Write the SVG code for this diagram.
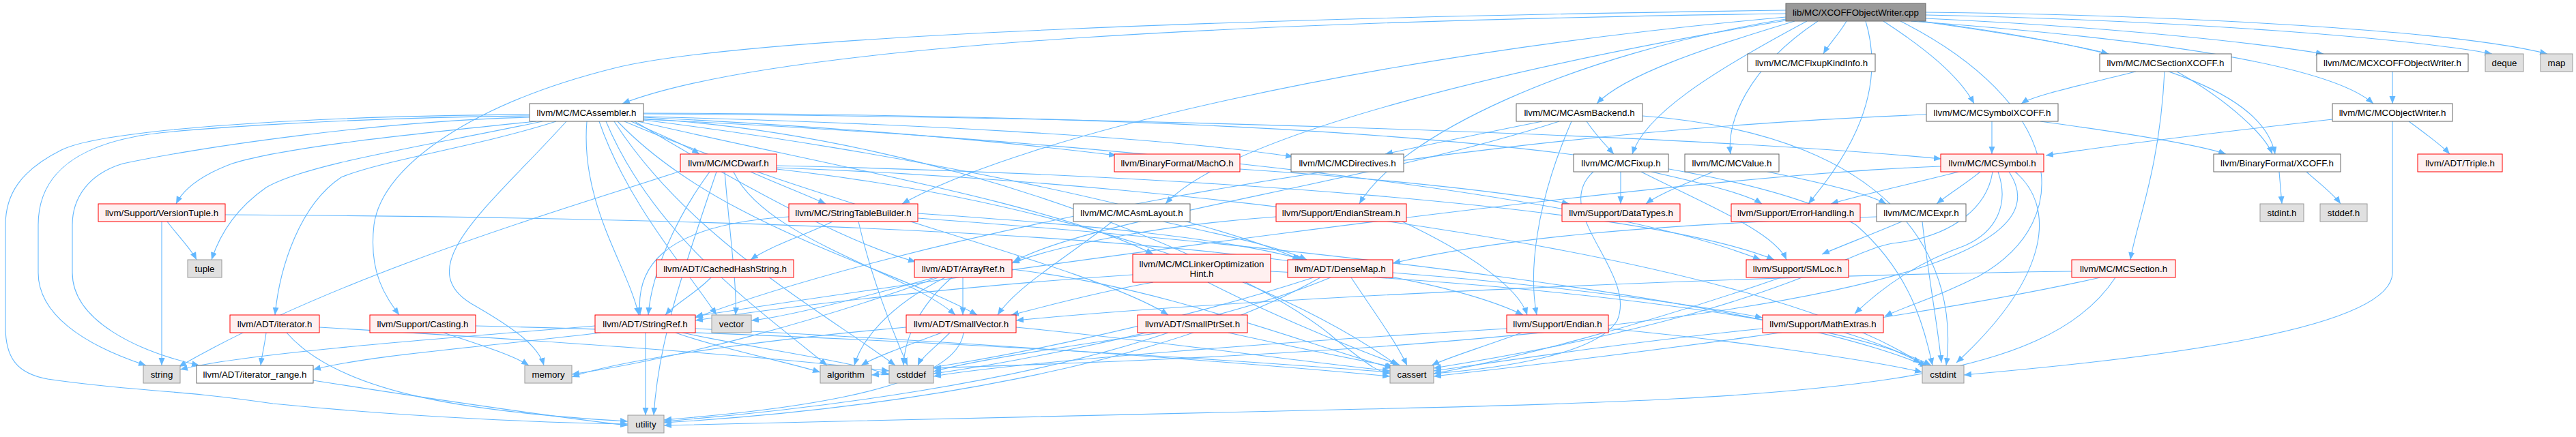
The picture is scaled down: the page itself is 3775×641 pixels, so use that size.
<svg xmlns="http://www.w3.org/2000/svg" width="3775" height="641" viewBox="0 0 3775 641">
<defs>
<marker id="ah" markerUnits="userSpaceOnUse" markerWidth="12" markerHeight="10" refX="11" refY="4.5" orient="auto"><path d="M0,0 L11,4.5 L0,9 z" fill="#63b8ff"/></marker>
<style>
.e path{fill:none;stroke:#63b8ff;stroke-width:1.1;marker-end:url(#ah)}
.w rect{fill:#ffffff;stroke:#666666}
.r rect{fill:#fff0f0;stroke:#ff0000}
.s rect{fill:#e0e0e0;stroke:#999999}
.root rect{fill:#999999;stroke:#666666}
text{font-family:"Liberation Sans",Arial,Helvetica,sans-serif;font-size:13.33px;text-anchor:middle;fill:#000000}
</style>
</defs>
<rect width="3775" height="641" fill="#ffffff"/>
<g id="edges" class="e">
<path d="M2617,20 C1900,30 1150,60 912,152"/>
<path d="M2617,15 C1900,25 1100,50 900,100 C700,150 560,240 548,330 C540,400 565,435 585,462"/>
<path d="M2706,31 C2695,50 2680,65 2672,79"/>
<path d="M2630,31 C2500,70 2380,110 2340,152"/>
<path d="M2648,31 C2500,110 2410,170 2392,226"/>
<path d="M2664,31 C2560,100 2530,180 2536,226"/>
<path d="M2734,31 C2770,150 2690,250 2650,299"/>
<path d="M2617,28 C2300,80 2050,200 1992,299"/>
<path d="M2617,30 C2200,100 1800,200 1708,299"/>
<path d="M2617,25 C2000,80 1500,200 1322,299"/>
<path d="M2760,31 C2820,70 2870,110 2893,152"/>
<path d="M2812,31 C2950,50 3050,68 3090,79"/>
<path d="M2822,27 C3100,40 3300,62 3405,79"/>
<path d="M2822,22 C3200,30 3520,55 3652,79"/>
<path d="M2822,18 C3200,22 3600,45 3733,79"/>
<path d="M2800,31 C3200,60 3420,100 3478,152"/>
<path d="M2815,31 C3200,80 3320,150 3334,226"/>
<path d="M2785,31 C3020,150 3050,320 2900,405 C2830,440 2790,450 2762,464"/>
<path d="M776,168 C450,170 150,190 90,220 C30,250 8,285 8,330 L8,480 C8,525 25,548 70,556 C200,575 250,570 400,592 C600,612 800,620 920,622"/>
<path d="M776,170 C500,173 250,190 200,200 C120,215 56,250 56,330 L56,400 C56,460 120,505 214,536"/>
<path d="M776,172 C550,178 300,215 180,240 C130,255 106,290 106,330 L106,400 C106,470 200,515 292,536"/>
<path d="M785,178 C620,195 420,215 340,240 C300,255 270,275 258,299"/>
<path d="M795,178 C620,215 450,240 390,275 C340,310 320,350 310,381"/>
<path d="M815,178 C700,215 560,235 500,260 C440,300 410,390 403,462"/>
<path d="M830,178 C720,300 600,390 690,445 C760,485 790,510 797,536"/>
<path d="M860,178 C850,300 920,390 936,462"/>
<path d="M878,178 C920,300 1010,400 1050,462"/>
<path d="M888,178 C960,350 1120,460 1212,536"/>
<path d="M900,178 C1010,350 1210,460 1312,536"/>
<path d="M943,174 C1400,200 1850,400 1960,500 C2000,530 2015,545 2037,548"/>
<path d="M943,166 C1700,168 2500,200 2720,330 C2800,400 2820,480 2832,536"/>
<path d="M925,178 C960,195 1000,210 1025,226"/>
<path d="M943,172 C1200,185 1450,205 1636,228"/>
<path d="M943,171 C1300,180 1700,200 1895,230"/>
<path d="M943,167 C1700,172 2500,200 2845,233"/>
<path d="M943,175 C1500,200 2300,270 2580,381"/>
<path d="M935,178 C1200,240 1550,300 1690,373"/>
<path d="M943,176 C1300,220 1750,310 1905,381"/>
<path d="M915,178 C1200,300 1600,390 1712,462"/>
<path d="M930,178 C1100,280 1250,360 1342,384"/>
<path d="M905,178 C1050,330 1300,390 1432,462"/>
<path d="M1100,252 C1140,270 1180,285 1210,299"/>
<path d="M1040,252 C990,320 955,400 950,462"/>
<path d="M1075,252 C1120,350 1330,400 1400,462"/>
<path d="M1138,243 C1700,255 2400,300 2600,381"/>
<path d="M1138,248 C1600,300 1900,430 2048,536"/>
<path d="M1138,246 C1800,270 2600,380 2822,538"/>
<path d="M1000,250 C850,300 500,400 262,538"/>
<path d="M1050,252 C1000,400 965,500 958,609"/>
<path d="M1062,252 C1070,350 1080,420 1078,462"/>
<path d="M1220,325 C1180,345 1130,360 1100,381"/>
<path d="M1258,325 C1275,400 1305,480 1330,536"/>
<path d="M1156,318 C960,330 932,400 938,462"/>
<path d="M1345,313 C1600,330 1800,350 1910,381"/>
<path d="M1345,320 C1900,360 2600,440 2825,538"/>
<path d="M1042,407 C1020,430 990,445 975,462"/>
<path d="M1630,325 C1560,380 1490,420 1462,462"/>
<path d="M1705,325 C1790,345 1870,360 1915,381"/>
<path d="M1411,407 L1411,462"/>
<path d="M1370,407 C1250,440 1150,465 1101,470"/>
<path d="M1385,407 C1300,450 1262,500 1252,536"/>
<path d="M1395,407 C1345,450 1325,500 1324,536"/>
<path d="M1375,407 C1200,470 1000,525 838,549"/>
<path d="M1483,395 C1700,420 1900,500 2040,540"/>
<path d="M1660,403 C1400,420 1150,450 1019,470"/>
<path d="M1690,414 C1600,430 1530,450 1482,462"/>
<path d="M1770,414 C1860,460 1980,510 2052,536"/>
<path d="M1862,398 C2300,420 2700,470 2830,536"/>
<path d="M2041,400 C2300,420 2500,450 2583,466"/>
<path d="M1980,407 C2015,460 2045,500 2062,536"/>
<path d="M1950,407 C1800,470 1500,530 1368,548"/>
<path d="M1925,407 C1700,480 1400,540 1277,550"/>
<path d="M1935,407 C1700,540 1300,600 973,620"/>
<path d="M2610,407 C2400,480 2200,530 2101,548"/>
<path d="M3036,398 C2500,405 1800,440 1489,470"/>
<path d="M3078,407 C2800,470 2300,530 2101,552"/>
<path d="M3100,407 C3000,560 2700,585 2000,600 C1500,612 1100,618 973,624"/>
<path d="M946,488 L946,609"/>
<path d="M872,478 C600,500 350,520 264,542"/>
<path d="M880,488 C700,510 550,520 459,542"/>
<path d="M990,488 C1050,510 1150,530 1202,546"/>
<path d="M1000,488 C1100,510 1250,530 1303,550"/>
<path d="M1019,482 C1400,500 1800,530 2037,552"/>
<path d="M390,488 C388,505 384,520 382,536"/>
<path d="M420,488 C500,580 700,605 920,618"/>
<path d="M468,480 C800,500 1100,520 1303,544"/>
<path d="M459,558 C600,580 800,610 920,624"/>
<path d="M650,488 C700,505 750,520 775,536"/>
<path d="M697,478 C1200,490 1700,520 2037,546"/>
<path d="M237,325 L237,536"/>
<path d="M245,325 C260,345 280,365 288,381"/>
<path d="M330,315 C1200,320 2000,350 2232,462"/>
<path d="M1380,488 C1320,510 1280,525 1262,536"/>
<path d="M1392,488 C1370,510 1350,525 1345,536"/>
<path d="M1412,488 C1400,580 1100,605 973,616"/>
<path d="M1328,480 C1100,500 900,530 838,553"/>
<path d="M1489,480 C1700,500 1900,530 2037,544"/>
<path d="M1700,488 C1550,510 1420,530 1368,545"/>
<path d="M1800,488 C1900,510 2000,530 2042,538"/>
<path d="M1712,488 C1500,560 1200,600 973,618"/>
<path d="M2230,488 C2170,510 2120,525 2098,536"/>
<path d="M2208,482 C1900,500 1500,530 1368,552"/>
<path d="M2357,482 C2550,500 2750,530 2817,546"/>
<path d="M2055,325 C2150,370 2225,420 2238,462"/>
<path d="M1870,318 C1700,330 1550,360 1483,386"/>
<path d="M2583,482 C2400,500 2200,530 2101,544"/>
<path d="M2700,487 C2760,505 2790,520 2815,532"/>
<path d="M2260,178 C2150,200 2080,215 2030,226"/>
<path d="M2325,178 C2340,200 2355,215 2365,226"/>
<path d="M2285,178 C2000,270 1600,320 1485,384"/>
<path d="M2303,178 C2250,300 2240,400 2252,462"/>
<path d="M2407,170 C2800,200 2870,400 2852,536"/>
<path d="M2375,252 L2375,299"/>
<path d="M2420,252 C2500,270 2560,285 2582,299"/>
<path d="M2405,252 C2500,300 2600,340 2618,381"/>
<path d="M2335,252 C2270,310 2400,400 2370,470 C2340,520 2200,540 2101,548"/>
<path d="M2510,252 C2470,270 2430,285 2412,299"/>
<path d="M2590,252 C2680,270 2740,285 2764,299"/>
<path d="M2750,318 C2400,330 2200,350 2041,386"/>
<path d="M2787,325 C2740,345 2700,360 2670,373"/>
<path d="M2817,325 C2825,400 2840,480 2845,532"/>
<path d="M2902,252 C2880,270 2855,285 2838,299"/>
<path d="M2870,252 C2800,270 2730,285 2683,299"/>
<path d="M2844,244 C2400,260 1300,420 1019,464"/>
<path d="M2928,252 C2945,300 2925,340 2880,360 C2810,385 2760,420 2718,460"/>
<path d="M2920,252 C2913,300 2867,347 2773,357 C2700,370 2600,460 2101,540"/>
<path d="M2944,252 C2990,320 2960,440 2000,510 C1700,530 1500,535 1368,540"/>
<path d="M2953,252 C3010,300 3010,400 2867,532"/>
<path d="M2919,178 L2919,226"/>
<path d="M2990,178 C3150,200 3230,215 3262,226"/>
<path d="M2823,168 C2000,200 1300,360 1019,466"/>
<path d="M3130,105 C3050,125 2980,140 2962,152"/>
<path d="M3190,105 C3270,150 3320,200 3330,226"/>
<path d="M3172,105 C3165,250 3130,330 3122,381"/>
<path d="M3506,105 L3506,152"/>
<path d="M3418,175 C3200,200 3050,220 2998,228"/>
<path d="M3530,178 C3560,200 3580,215 3590,226"/>
<path d="M3506,178 L3506,400 C3506,490 3100,530 2878,550"/>
<path d="M3340,252 L3344,299"/>
<path d="M3380,252 C3400,270 3420,285 3430,299"/>
<path d="M1817,248 C2000,260 2200,280 2300,299"/>
</g>
<g id="n-cpp" class="root"><rect x="2617" y="5" width="205" height="26"/><text x="2719.5" y="22.5">lib/MC/XCOFFObjectWriter.cpp</text></g>
<g id="n-fixupkind" class="w"><rect x="2561" y="79" width="187" height="26"/><text x="2654.5" y="96.5">llvm/MC/MCFixupKindInfo.h</text></g>
<g id="n-sectxcoff" class="w"><rect x="3077" y="79" width="193" height="26"/><text x="3173.5" y="96.5">llvm/MC/MCSectionXCOFF.h</text></g>
<g id="n-xcoffow" class="w"><rect x="3395" y="79" width="222" height="26"/><text x="3506" y="96.5">llvm/MC/MCXCOFFObjectWriter.h</text></g>
<g id="n-deque" class="s"><rect x="3642" y="79" width="56" height="26"/><text x="3670" y="96.5">deque</text></g>
<g id="n-map" class="s"><rect x="3723" y="79" width="47" height="26"/><text x="3746.5" y="96.5">map</text></g>
<g id="n-assembler" class="w"><rect x="776" y="152" width="167" height="26"/><text x="859.5" y="169.5">llvm/MC/MCAssembler.h</text></g>
<g id="n-asmbackend" class="w"><rect x="2222" y="152" width="185" height="26"/><text x="2314.5" y="169.5">llvm/MC/MCAsmBackend.h</text></g>
<g id="n-symxcoff" class="w"><rect x="2823" y="152" width="193" height="26"/><text x="2919.5" y="169.5">llvm/MC/MCSymbolXCOFF.h</text></g>
<g id="n-objwriter" class="w"><rect x="3418" y="152" width="176" height="26"/><text x="3506" y="169.5">llvm/MC/MCObjectWriter.h</text></g>
<g id="n-dwarf" class="r"><rect x="997" y="226" width="141" height="26"/><text x="1067.5" y="243.5">llvm/MC/MCDwarf.h</text></g>
<g id="n-macho" class="r"><rect x="1633" y="226" width="184" height="26"/><text x="1725" y="243.5">llvm/BinaryFormat/MachO.h</text></g>
<g id="n-directives" class="w"><rect x="1892" y="226" width="165" height="26"/><text x="1974.5" y="243.5">llvm/MC/MCDirectives.h</text></g>
<g id="n-fixup" class="w"><rect x="2306" y="226" width="139" height="26"/><text x="2375.5" y="243.5">llvm/MC/MCFixup.h</text></g>
<g id="n-value" class="w"><rect x="2469" y="226" width="138" height="26"/><text x="2538" y="243.5">llvm/MC/MCValue.h</text></g>
<g id="n-symbol" class="r"><rect x="2844" y="226" width="151" height="26"/><text x="2919.5" y="243.5">llvm/MC/MCSymbol.h</text></g>
<g id="n-xcoffh" class="w"><rect x="3244" y="226" width="186" height="26"/><text x="3337" y="243.5">llvm/BinaryFormat/XCOFF.h</text></g>
<g id="n-triple" class="r"><rect x="3543" y="226" width="124" height="26"/><text x="3605" y="243.5">llvm/ADT/Triple.h</text></g>
<g id="n-versiontuple" class="r"><rect x="144" y="299" width="186" height="26"/><text x="237" y="316.5">llvm/Support/VersionTuple.h</text></g>
<g id="n-stb" class="r"><rect x="1156" y="299" width="189" height="26"/><text x="1250.5" y="316.5">llvm/MC/StringTableBuilder.h</text></g>
<g id="n-asmlayout" class="w"><rect x="1573" y="299" width="171" height="26"/><text x="1658.5" y="316.5">llvm/MC/MCAsmLayout.h</text></g>
<g id="n-endianstream" class="r"><rect x="1870" y="299" width="191" height="26"/><text x="1965.5" y="316.5">llvm/Support/EndianStream.h</text></g>
<g id="n-datatypes" class="r"><rect x="2289" y="299" width="173" height="26"/><text x="2375.5" y="316.5">llvm/Support/DataTypes.h</text></g>
<g id="n-errorhandling" class="r"><rect x="2537" y="299" width="189" height="26"/><text x="2631.5" y="316.5">llvm/Support/ErrorHandling.h</text></g>
<g id="n-expr" class="w"><rect x="2750" y="299" width="131" height="26"/><text x="2815.5" y="316.5">llvm/MC/MCExpr.h</text></g>
<g id="n-stdint" class="s"><rect x="3312" y="299" width="64" height="26"/><text x="3344" y="316.5">stdint.h</text></g>
<g id="n-stddef" class="s"><rect x="3400" y="299" width="69" height="26"/><text x="3434.5" y="316.5">stddef.h</text></g>
<g id="n-tuple" class="s"><rect x="275" y="381" width="50" height="26"/><text x="300" y="398.5">tuple</text></g>
<g id="n-cachedhash" class="r"><rect x="962" y="381" width="201" height="26"/><text x="1062.5" y="398.5">llvm/ADT/CachedHashString.h</text></g>
<g id="n-arrayref" class="r"><rect x="1340" y="381" width="143" height="26"/><text x="1411.5" y="398.5">llvm/ADT/ArrayRef.h</text></g>
<g id="n-loh" class="r"><rect x="1660" y="373" width="202" height="41"/><text x="1761" y="391.5">llvm/MC/MCLinkerOptimization</text><text x="1761" y="406">Hint.h</text></g>
<g id="n-densemap" class="r"><rect x="1887" y="381" width="154" height="26"/><text x="1964" y="398.5">llvm/ADT/DenseMap.h</text></g>
<g id="n-smloc" class="r"><rect x="2559" y="381" width="150" height="26"/><text x="2634" y="398.5">llvm/Support/SMLoc.h</text></g>
<g id="n-section" class="r"><rect x="3036" y="381" width="152" height="26"/><text x="3112" y="398.5">llvm/MC/MCSection.h</text></g>
<g id="n-iterator" class="r"><rect x="337" y="462" width="131" height="26"/><text x="402.5" y="479.5">llvm/ADT/iterator.h</text></g>
<g id="n-casting" class="r"><rect x="542" y="462" width="155" height="26"/><text x="619.5" y="479.5">llvm/Support/Casting.h</text></g>
<g id="n-stringref" class="r"><rect x="872" y="462" width="147" height="26"/><text x="945.5" y="479.5">llvm/ADT/StringRef.h</text></g>
<g id="n-vector" class="s"><rect x="1043" y="462" width="58" height="26"/><text x="1072" y="479.5">vector</text></g>
<g id="n-smallvector" class="r"><rect x="1328" y="462" width="161" height="26"/><text x="1408.5" y="479.5">llvm/ADT/SmallVector.h</text></g>
<g id="n-smallptrset" class="r"><rect x="1667" y="462" width="161" height="26"/><text x="1747.5" y="479.5">llvm/ADT/SmallPtrSet.h</text></g>
<g id="n-endian" class="r"><rect x="2208" y="462" width="149" height="26"/><text x="2282.5" y="479.5">llvm/Support/Endian.h</text></g>
<g id="n-mathextras" class="r"><rect x="2583" y="462" width="177" height="26"/><text x="2671.5" y="479.5">llvm/Support/MathExtras.h</text></g>
<g id="n-string" class="s"><rect x="210" y="536" width="54" height="26"/><text x="237" y="553.5">string</text></g>
<g id="n-iterrange" class="w"><rect x="288" y="536" width="171" height="26"/><text x="373.5" y="553.5">llvm/ADT/iterator_range.h</text></g>
<g id="n-memory" class="s"><rect x="769" y="536" width="69" height="26"/><text x="803.5" y="553.5">memory</text></g>
<g id="n-algorithm" class="s"><rect x="1202" y="536" width="75" height="26"/><text x="1239.5" y="553.5">algorithm</text></g>
<g id="n-cstddef" class="s"><rect x="1303" y="536" width="65" height="26"/><text x="1335.5" y="553.5">cstddef</text></g>
<g id="n-cassert" class="s"><rect x="2037" y="536" width="64" height="26"/><text x="2069" y="553.5">cassert</text></g>
<g id="n-cstdint" class="s"><rect x="2817" y="536" width="61" height="26"/><text x="2847.5" y="553.5">cstdint</text></g>
<g id="n-utility" class="s"><rect x="920" y="609" width="53" height="26"/><text x="946.5" y="626.5">utility</text></g>
</svg>
